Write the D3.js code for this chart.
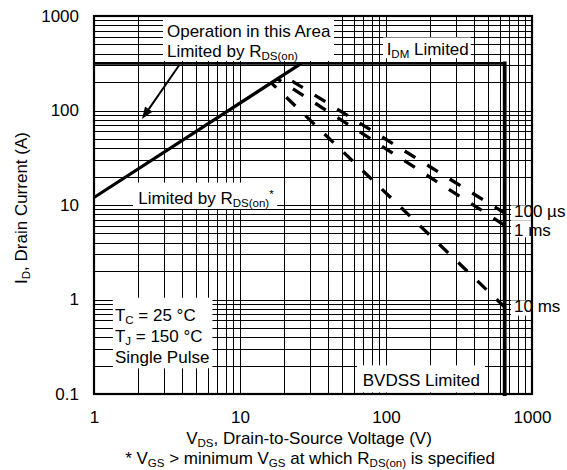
<!DOCTYPE html>
<html>
<head>
<meta charset="utf-8">
<script src="https://cdn.jsdelivr.net/npm/d3@7"></script>
<style>
body { margin: 0; background: #fff; }
svg { display: block; font-family: "Liberation Sans", Arial, Helvetica, sans-serif; }
.grid line { stroke: #000; stroke-width: 1; shape-rendering: crispEdges; }
.grid path { display: none; }
.axis text { font-size: 17px; fill: #000; font-family: "Liberation Sans", Arial, Helvetica, sans-serif; }
.label text { font-size: 17px; fill: #000; }
</style>
</head>
<body>
<svg id="chart" width="567" height="470"></svg>
<script>
// tick labels
var vdsTicks = [1, 10, 100, 1000];
var idTicks = [0.1, 1, 10, 100, 1000];

// R_DS(on) limit line
var rdsVds = [1, 26.3];
var rdsId = [12, 315];
// I_DM limit
var idmVds = [1, 650];
var idmId = [315, 315];
// BVDSS limit
var bvVds = [650, 650];
var bvId = [315, 0.1];

// single pulse lines: start on the R_DS(on) line, end at BVDSS
var pulseNames = ["100 µs", "1 ms", "10 ms"];
var pulseVds = [[19.65, 650], [18.04, 650], [16.39, 650]];
var pulseId = [[236, 8.2], [216, 6.1], [196, 0.83]];

// annotation texts (part, style)
var noteArea = [[["Operation in this Area"]], [["Limited by R"], ["DS(on)", "sub"]]];
var noteIdm = [[["I"], ["DM", "sub"], [" Limited"]]];
var noteRds = [[["Limited by R"], ["DS(on)", "sub"], ["*", "sup"]]];
var noteCond = [[["T"], ["C", "sub"], [" = 25 °C"]], [["T"], ["J", "sub"], [" = 150 °C"]], [["Single Pulse"]]];
var noteBv = [[["BVDSS Limited"]]];


var svg = d3.select("#chart");
svg.append("rect").attr("width", 567).attr("height", 470).attr("fill", "#fff");

var margin = {top: 16, right: 35, bottom: 76, left: 94},
	width = 567 - margin.left - margin.right,
	height = 470 - margin.top - margin.bottom;

var x = d3.scaleLog().domain([1, 1000]).range([0, width]);
var y = d3.scaleLog().domain([0.1, 1000]).range([height, 0]);

var chart = svg.append("g")
	.attr("transform", "translate(" + margin.left + "," + margin.top + ")");

// log grid
chart.append("g")
	.attr("class", "grid")
	.attr("transform", "translate(0," + height + ")")
	.call(d3.axisBottom(x).tickValues(x.ticks()).tickSize(-height).tickFormat(""));
chart.append("g")
	.attr("class", "grid")
	.call(d3.axisLeft(y).tickValues(y.ticks()).tickSize(-width).tickFormat(""));

var boxLayer = chart.append("g");
var lineLayer = chart.append("g");
var textLayer = chart.append("g").attr("class", "label");

var line = d3.line()
	.x(function(d) { return x(d[0]); })
	.y(function(d) { return y(d[1]); });

// limit lines
lineLayer.append("path")
	.datum(d3.zip(rdsVds, rdsId))
	.attr("d", line).attr("fill", "none").attr("stroke", "#000").attr("stroke-width", 3.2);
lineLayer.append("path")
	.datum(d3.zip(idmVds, idmId))
	.attr("d", line).attr("fill", "none").attr("stroke", "#000").attr("stroke-width", 2.8);
lineLayer.append("path")
	.datum(d3.zip(bvVds, bvId))
	.attr("d", line).attr("fill", "none").attr("stroke", "#000").attr("stroke-width", 3.8)
	.attr("stroke-linecap", "square");

// pulse lines
var dashOffsets = [15.5, 8, 5.7];
pulseNames.forEach(function(name, i) {
	lineLayer.append("path")
		.datum(d3.zip(pulseVds[i], pulseId[i]))
		.attr("d", line)
		.attr("fill", "none")
		.attr("stroke", "#000")
		.attr("stroke-width", 3.3)
		.attr("stroke-dasharray", "12.5,14")
		.attr("stroke-dashoffset", dashOffsets[i]);
});

// frame
chart.append("rect")
	.attr("width", width).attr("height", height)
	.attr("fill", "none").attr("stroke", "#000").attr("stroke-width", 2.2);

// write one line of text with sub/superscripts
function richLine(sel, parts) {
	var shift = 0;
	parts.forEach(function(p) {
		var target = p[1] == "sub" ? 3.2 : (p[1] == "sup" ? -6 : 0);
		var ts = sel.append("tspan").attr("dy", target - shift).text(p[0]);
		if (p[1]) ts.attr("font-size", 11.5);
		shift = target;
	});
}

// text block with white box behind; pad = [top, right, bottom, left]
function note(lines, vds, id, lh, pad) {
	var g = textLayer.append("g");
	lines.forEach(function(parts, k) {
		var t = g.append("text")
			.attr("x", x(vds))
			.attr("y", y(id) + k * lh);
		richLine(t, parts);
	});
	var b = g.node().getBBox();
	var top = Math.max(0, b.y - pad[0]);
	boxLayer.append("rect")
		.attr("x", b.x - pad[3])
		.attr("y", top)
		.attr("width", b.width + pad[1] + pad[3])
		.attr("height", b.y + b.height + pad[2] - top)
		.attr("fill", "#fff");
}

note(noteArea, 3.16, 595, 19.4, [8, 3, -1, 4]);
note(noteIdm, 101, 386, 19, [2.6, 2, -2, 3.7]);
note(noteRds, 2.01, 10.2, 19, [5.6, 3, -0.5, 5.3]);
note(noteCond, 1.39, 0.589, 20.8, [8.5, 3, 1.5, 2]);
note(noteBv, 69.3, 0.1216, 19, [5.6, 5, 2.4, 5.7]);

// pulse labels right of the BVDSS line
var pulseLabelId = [7.52, 4.73, 0.743];
var pulsePads = [[-3.7, 30, 0, 3], [0, 30, -2.3, 3], [-3.7, 30, 0, 3]];
pulseNames.forEach(function(name, i) {
	note([[[name]]], 753, pulseLabelId[i], 19, pulsePads[i]);
});

// arrow pointing into the R_DS(on) area
var a0 = [x(3.85), y(305)], a1 = [x(2.13), y(81.3)];
var ang = Math.atan2(a1[1] - a0[1], a1[0] - a0[0]);
var headL = 12, headW = 4.5;
var hb = [a1[0] - headL * Math.cos(ang), a1[1] - headL * Math.sin(ang)];
textLayer.append("line")
	.attr("x1", a0[0]).attr("y1", a0[1]).attr("x2", hb[0]).attr("y2", hb[1])
	.attr("stroke", "#000").attr("stroke-width", 2);
textLayer.append("path")
	.attr("d", "M" + a1[0] + "," + a1[1] +
		"L" + (hb[0] - headW * Math.sin(ang)) + "," + (hb[1] + headW * Math.cos(ang)) +
		"L" + (hb[0] + headW * Math.sin(ang)) + "," + (hb[1] - headW * Math.cos(ang)) + "Z")
	.attr("fill", "#000");

// axes labels
var xAxis = chart.append("g")
	.attr("class", "axis")
	.attr("transform", "translate(0," + height + ")")
	.call(d3.axisBottom(x).tickValues(vdsTicks).tickSize(0).tickPadding(17).tickFormat(d3.format("")));
xAxis.select(".domain").remove();

var yAxis = chart.append("g")
	.attr("class", "axis")
	.call(d3.axisLeft(y).tickValues(idTicks).tickSize(0).tickPadding(15).tickFormat(d3.format("")));
yAxis.select(".domain").remove();

// titles
var xTitle = chart.append("text")
	.attr("class", "title")
	.attr("x", width / 2 - 4)
	.attr("y", height + 50)
	.attr("text-anchor", "middle")
	.attr("font-size", 17);
richLine(xTitle, [["V"], ["DS", "sub"], [", Drain-to-Source Voltage (V)"]]);

var foot = chart.append("text")
	.attr("x", width / 2 - 3)
	.attr("y", height + 70)
	.attr("text-anchor", "middle")
	.attr("font-size", 17);
richLine(foot, [["* V"], ["GS", "sub"], [" > minimum V"], ["GS", "sub"], [" at which R"], ["DS(on)", "sub"], [" is specified"]]);

var yTitle = chart.append("text")
	.attr("transform", "rotate(-90)")
	.attr("x", -(height / 2 + 3))
	.attr("y", -67)
	.attr("text-anchor", "middle")
	.attr("font-size", 17);
richLine(yTitle, [["I"], ["D", "sub"], [", Drain Current (A)"]]);
</script>
</body>
</html>
